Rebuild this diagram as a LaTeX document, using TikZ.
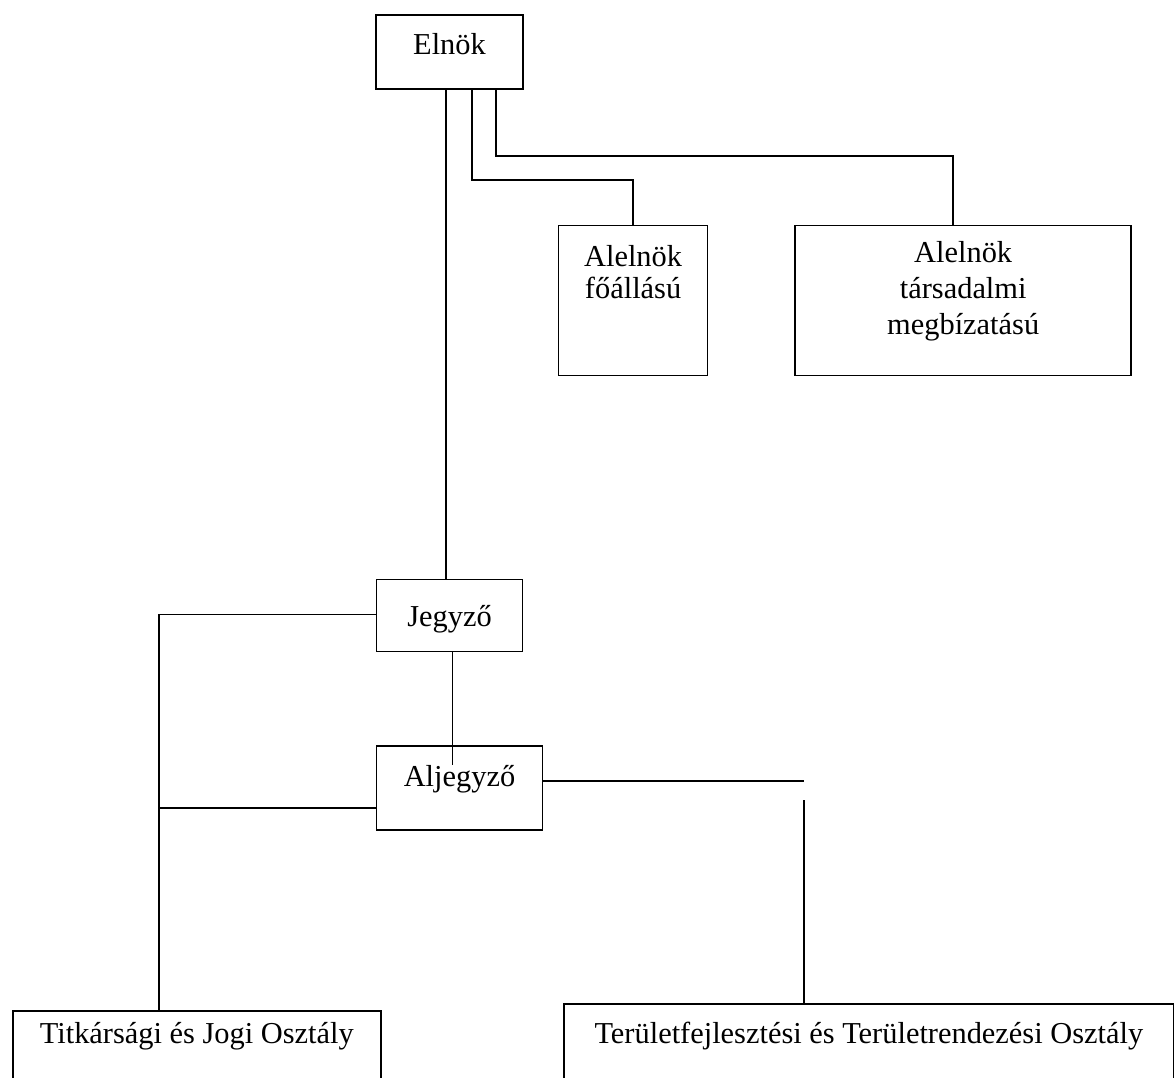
\documentclass[tikz,border=0pt]{standalone}
\usepackage{fontspec}
\setmainfont{Liberation Serif}
\usetikzlibrary{positioning}

\begin{document}
\begin{tikzpicture}[
  x=1pt, y=-1pt,
  box/.style={draw, line width=1.6pt, inner sep=0pt, align=center, text height=27pt, font=\fontsize{30.4}{34}\selectfont},
  conn/.style={line width=1.6pt}
]
  \useasboundingbox (0,0) rectangle (1174,1077);
  \node[box, minimum width=147pt, minimum height=74pt, text depth=23pt] (elnok) at (449.5,52) {Elnök};
  \node[box, minimum width=149pt, minimum height=150pt, text height=59pt, text depth=63pt, font=\fontsize{30.4}{32}\selectfont, below right=135pt and 34pt of elnok] (fo) {Alelnök\\főállású};
  \node[box, minimum width=336pt, minimum height=150pt, text height=99pt, text depth=31pt, font=\fontsize{30.4}{36}\selectfont, right=86pt of fo] (tars) {Alelnök\\társadalmi\\megbízatású};
  \node[box, minimum width=146pt, minimum height=72pt, text depth=6pt, below=489pt of elnok] (jegyzo) {Jegyző};
  \node[box, minimum width=166pt, minimum height=84pt, text depth=31pt, below right=93pt and 0pt of jegyzo.south west] (aljegyzo) {Aljegyző};
  \node[box, minimum width=368pt, minimum height=80pt, text depth=41pt, anchor=north west] (tit) at (12,1010) {Titkársági és Jogi Osztály};
  \node[box, minimum width=610pt, minimum height=80pt, text depth=27pt, anchor=north west] (ter) at (563,1003) {Területfejlesztési és Területrendezési Osztály};

  \coordinate (e1) at ([xshift=-3.5pt]elnok.south);
  \coordinate (e2) at ([xshift=22.5pt]elnok.south);
  \coordinate (e3) at ([xshift=46.5pt]elnok.south);
  \draw[conn] (e1) -- (e1 |- jegyzo.north);
  \draw[conn] (e2) -- ++(0,90) -| (fo.north);
  \draw[conn] (e3) -- ++(0,66) -| ([xshift=-10pt]tars.north);

  \coordinate (bal) at ([xshift=-38pt]tit.north);
  \coordinate (aw) at ([yshift=-20pt]aljegyzo.west);
  \draw[conn] ([yshift=1pt]jegyzo.west) -| (bal);
  \draw[conn] (aw) -- (aw -| bal);

  \coordinate (js) at ([xshift=3pt]jegyzo.south);
  \draw[conn] (js) -- ++(0,113);

  \coordinate (ae) at ([yshift=7pt]aljegyzo.east);
  \coordinate (tn) at ([xshift=-65pt]ter.north);
  \draw[conn] (ae) -- (ae -| tn);
  \draw[conn] (tn) -- ++(0,-203);
\end{tikzpicture}
\end{document}
